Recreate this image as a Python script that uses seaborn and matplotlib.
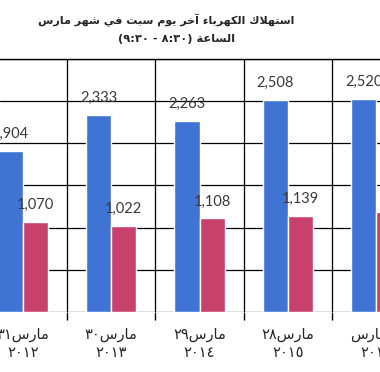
import pandas as pd
import seaborn as sns
import matplotlib.pyplot as plt
from matplotlib.ticker import FixedLocator, MultipleLocator

sns.set_theme(style="white")
plt.rcParams["font.family"] = ["DejaVu Sans"]

# البيانات
days = ["مارس٣١", "مارس٣٠", "مارس٢٩", "مارس٢٨", "٢٦مارس"]
years = ["٢٠١٢", "٢٠١٣", "٢٠١٤", "٢٠١٥", "٢٠١٦"]
blue_vals = [1904, 2333, 2263, 2508, 2520]
red_vals = [1070, 1022, 1108, 1139, 1185]
title_1 = "استهلاك الكهرباء آخر يوم سبت في شهر مارس"
title_2 = "الساعة (٨:٣٠ - ٩:٣٠)"

BLUE = "#3f74d4"
RED = "#c8416c"

# matplotlib has no arabic shaping -> presentation forms + manual rtl order
# letter: (isolated code, number of forms)
FORMS = {
    "ء": (0xFE80, 1), "آ": (0xFE81, 2), "ا": (0xFE8D, 2), "ب": (0xFE8F, 4),
    "ة": (0xFE93, 2), "ت": (0xFE95, 4), "خ": (0xFEA5, 4), "ر": (0xFEAD, 2),
    "س": (0xFEB1, 4), "ش": (0xFEB5, 4), "ع": (0xFEC9, 4), "ف": (0xFED1, 4),
    "ك": (0xFED9, 4), "ل": (0xFEDD, 4), "م": (0xFEE1, 4), "ه": (0xFEE9, 4),
    "و": (0xFEED, 2), "ي": (0xFEF1, 4),
}
DIGITS = set("٠١٢٣٤٥٦٧٨٩0123456789")


def shape(text):
    res = []
    i = 0
    while i < len(text):
        c = text[i]
        if c not in FORMS:
            res.append(c)
            i += 1
            continue
        prev = text[i - 1] if i > 0 else ""
        nxt = text[i + 1] if i + 1 < len(text) else ""
        base, k = FORMS[c]
        link_prev = prev in FORMS and FORMS[prev][1] == 4 and k >= 2
        if c == "ل" and nxt in ("ا", "آ"):
            lig = 0xFEFB if nxt == "ا" else 0xFEF5
            res.append(chr(lig + (1 if link_prev else 0)))
            i += 2
            continue
        link_next = k == 4 and nxt in FORMS and FORMS[nxt][1] >= 2
        if k == 1:
            off = 0
        elif k == 2:
            off = 1 if link_prev else 0
        elif link_prev:
            off = 3 if link_next else 1
        else:
            off = 2 if link_next else 0
        res.append(chr(base + off))
        i += 1
    return "".join(res)


def rtl(text):
    s = shape(text)[::-1].translate(str.maketrans("()", ")("))
    out, run = [], []
    for ch in s:
        if ch in DIGITS or (ch in ":," and run):
            run.append(ch)
        else:
            out.extend(run[::-1])
            run = []
            out.append(ch)
    out.extend(run[::-1])
    return "".join(out)


labels = [rtl(d) + "\n" + y for d, y in zip(days, years)]
df = pd.DataFrame({
    "date": labels * 2,
    "kwh": blue_vals + red_vals,
    "series": ["a"] * len(labels) + ["b"] * len(labels),
})

fig = plt.figure(figsize=(3.8, 3.72), dpi=100)
ax = fig.add_axes([0, 60 / 372, 1, 253.5 / 372])
sns.barplot(data=df, x="date", y="kwh", hue="series", palette=[BLUE, RED],
            width=0.57, saturation=1, legend=False, ax=ax, zorder=3)

for cont in ax.containers:
    ax.bar_label(cont, fmt="{:,.0f}", padding=7, fontsize=10.5,
                 color="#3a3a3a", family="Lato")

ax.set_xlim(-0.257, 4.04)
ax.set_ylim(0, 3000)
ax.yaxis.set_major_locator(MultipleLocator(500))
ax.set_yticklabels([])
ax.tick_params(axis="y", length=0)
ax.xaxis.set_minor_locator(FixedLocator([0.5, 1.5, 2.5, 3.5]))
ax.tick_params(axis="x", which="major", length=0, pad=11, labelsize=10.5)
ax.tick_params(axis="x", which="minor", length=6, width=1, color="black",
               direction="out", bottom=True)
ax.grid(axis="y", color="black", lw=0.9)
ax.grid(axis="x", which="minor", color="black", lw=0.9)
ax.set_axisbelow(True)
for side in ["left", "right", "bottom"]:
    ax.spines[side].set_visible(False)
ax.spines["top"].set_color("black")
ax.spines["top"].set_linewidth(1)
ax.set_xlabel("")
ax.set_ylabel("")

fig.text(166 / 380, 1 - 20 / 372, rtl(title_1), ha="center", va="center",
         fontsize=8, fontweight="bold")
fig.text(176 / 380, 1 - 39 / 372, rtl(title_2), ha="center", va="center",
         fontsize=8.2, fontweight="bold")

fig.savefig("out.png", dpi=100, facecolor="white")
